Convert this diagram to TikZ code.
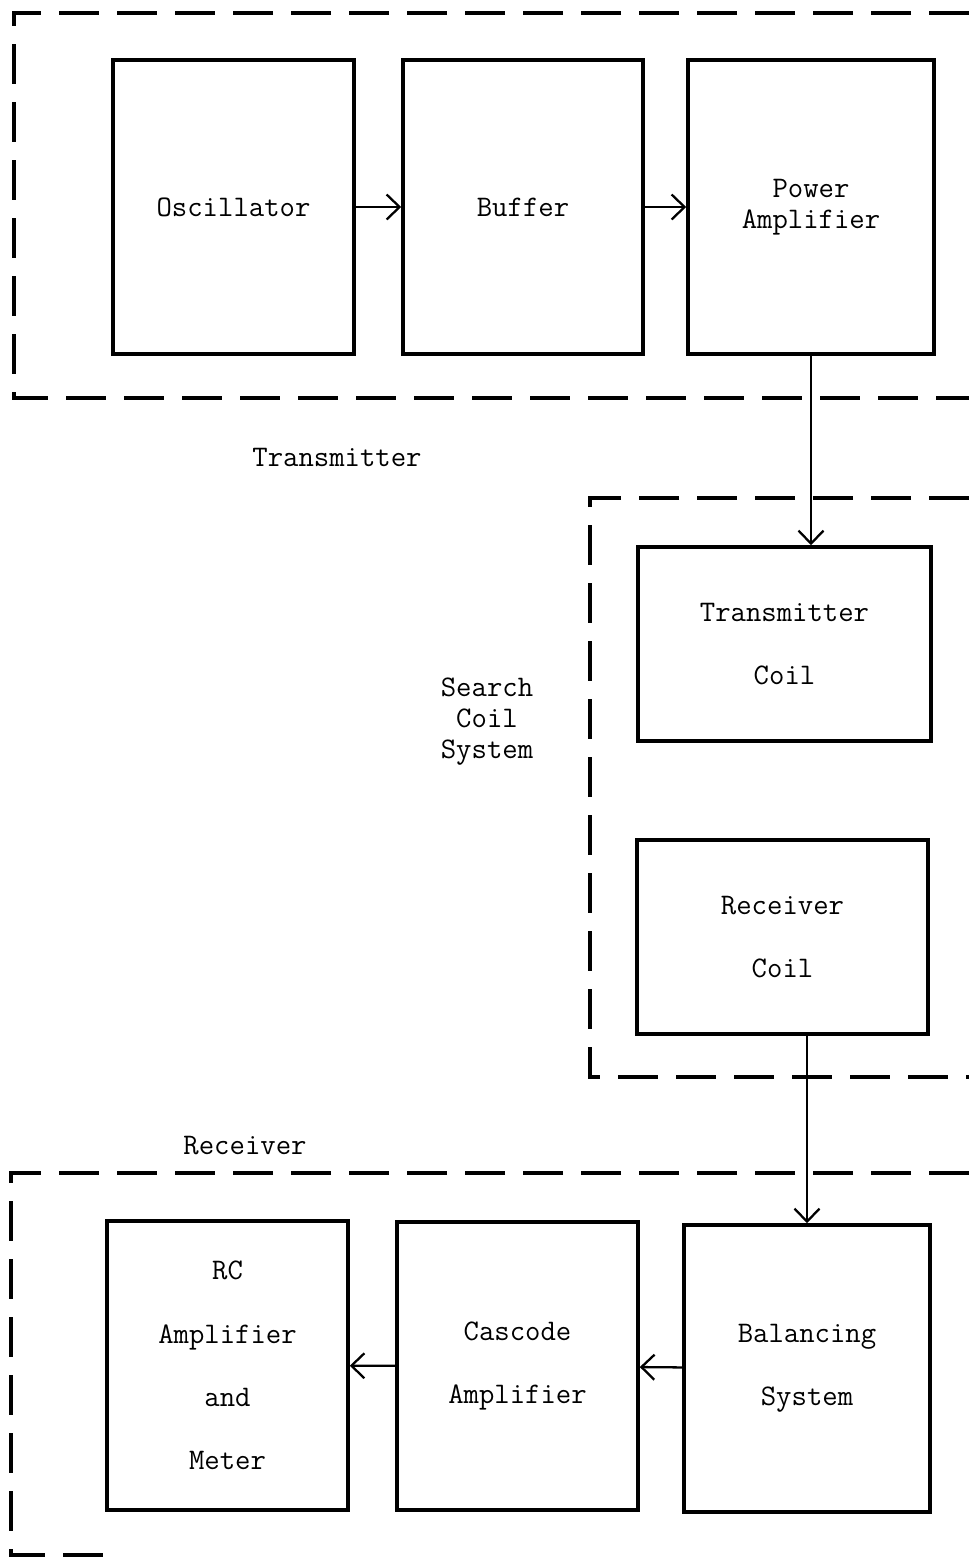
\documentclass[tikz,border=0pt]{standalone}
\usepackage{tikz}
\usetikzlibrary{arrows.meta,positioning,calc}

\newcommand{\blockfont}{\ttfamily\fontsize{17}{17.6}\selectfont}

\begin{document}
\begin{tikzpicture}[
  block/.style={draw, line width=2pt, align=center, font=\blockfont, inner sep=0pt},
  group/.style={line width=1.8pt, dash pattern=on 0.8cm off 0.36cm},
  sig/.style={line width=1.3pt, -{Straight Barb[length=2.6mm,width=5mm,line width=1.3pt]}},
  lbl/.style={align=center, font=\blockfont}
]
  \useasboundingbox (0,0) rectangle (19.38,-31.16);

  % Transmitter
  \node[block, minimum width=4.82cm, minimum height=5.88cm] (osc) at (4.67,-4.14) {Oscillator};
  \node[block, minimum width=4.80cm, minimum height=5.88cm] (buf) at (10.46,-4.14) {Buffer};
  \node[block, minimum width=4.92cm, minimum height=5.88cm] (pa) at (16.22,-4.14) {Power\\Amplifier};
  \draw[group] (19.38,-0.26) -- (0.28,-0.26) -- (0.28,-7.96) -- (19.38,-7.96);
  \node[lbl] (tx) at (6.74,-9.14) {Transmitter};

  % Search coil system
  \node[block, minimum width=5.86cm, minimum height=3.88cm] (tc) at (15.69,-12.88) {Transmitter\\[18.4pt]Coil};
  \node[block, minimum width=5.82cm, minimum height=3.88cm] (rc) at (15.65,-18.74) {Receiver\\[18.4pt]Coil};
  \draw[group] (19.38,-9.96) -- (11.8,-9.96) -- (11.8,-21.54) -- (19.38,-21.54);
  \node[lbl] (scs) at (9.74,-14.44) {Search\\Coil\\System};

  % Receiver
  \node[block, minimum width=4.82cm, minimum height=5.78cm] (rcm) at (4.55,-27.31) {RC\\[18.4pt]Amplifier\\[18.4pt]and\\[18.4pt]Meter};
  \node[block, minimum width=4.82cm, minimum height=5.76cm] (cas) at (10.35,-27.32) {Cascode\\[18.4pt]Amplifier};
  \node[block, minimum width=4.92cm, minimum height=5.74cm] (bal) at (16.14,-27.37) {Balancing\\[18.4pt]System};
  \draw[group] (19.38,-23.46) -- (0.22,-23.46) -- (0.22,-31.1) -- (2.3,-31.1);
  \node[lbl] (rx) at (4.9,-22.92) {Receiver};

  % Signal path
  \draw[sig] (osc) -- (buf);
  \draw[sig] (buf) -- (pa);
  \draw[sig] (pa.south) -- (pa.south |- tc.north);
  \draw[sig] (bal.north |- rc.south) -- (bal.north);
  \draw[sig] (bal) -- (cas);
  \draw[sig] (cas) -- (rcm);
\end{tikzpicture}
\end{document}
